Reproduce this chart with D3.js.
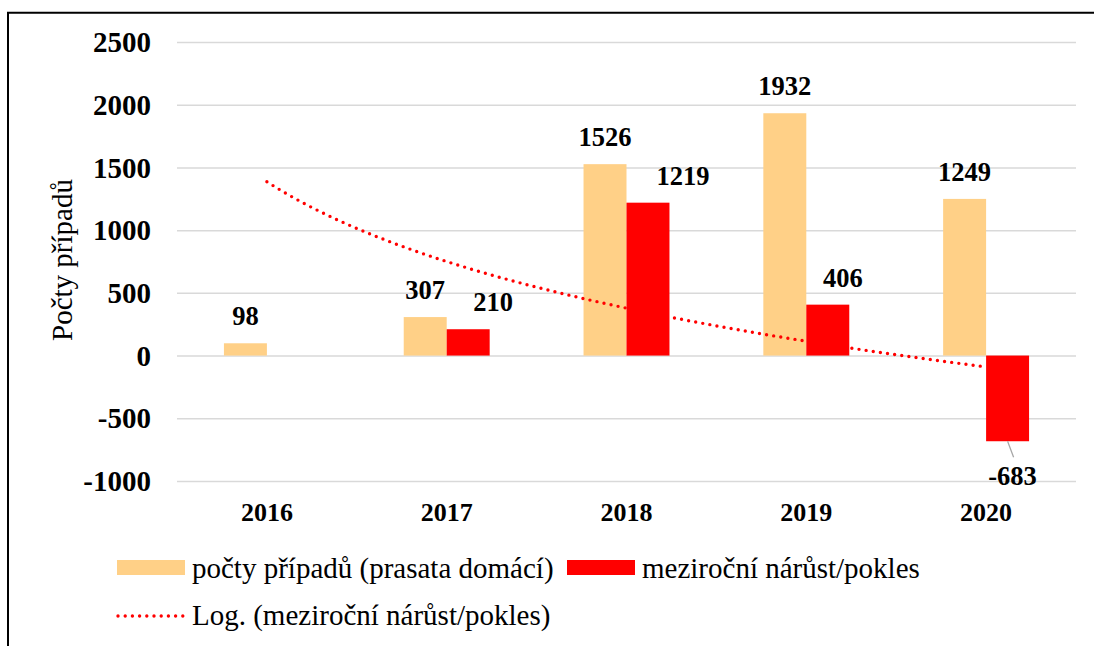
<!DOCTYPE html>
<html>
<head>
<meta charset="utf-8">
<script src="https://cdn.jsdelivr.net/npm/d3@7"></script>
<style>
  body { margin: 0; background: #fff; }
  svg { display: block; }
  svg text { font-family: "Times New Roman", "Liberation Serif", "DejaVu Serif", serif; }
</style>
</head>
<body>
<div id="chart"></div>
<script>
const years = ["2016", "2017", "2018", "2019", "2020"];
const cases = [98, 307, 1526, 1932, 1249];
const change = [null, 210, 1219, 406, -683];
const yTicks = [-1000, -500, 0, 500, 1000, 1500, 2000, 2500];

// label nudges for the red series, as placed in the original
const changeLabelDx = [0, 25, 35, 15, 5];

const W = 1094, H = 646;
const orange = "#ffd087", red = "#ff0000";

const svg = d3.select("#chart").append("svg").attr("width", W).attr("height", H);

// frame (top + left edge, cropped on the others)
svg.append("path")
  .attr("d", "M8,646 V12.8 H1094")
  .attr("fill", "none").attr("stroke", "#000").attr("stroke-width", 2);

const x = d3.scaleBand().domain(years).range([177, 1076]);
const y = d3.scaleLinear().domain([-1000, 2500]).range([481, 42]);
const bw = x.step() * 0.239;

// grid
svg.append("g")
  .attr("transform", "translate(177,0)")
  .call(d3.axisLeft(y).tickValues(yTicks).tickSize(-(1076 - 177)).tickFormat(""))
  .call((g) => g.select(".domain").remove())
  .call((g) => g.selectAll("line").attr("stroke", "#d9d9d9").attr("stroke-width", 1.5));

// y tick labels
svg.append("g")
  .selectAll("text")
  .data(yTicks)
  .enter()
  .append("text")
  .attr("x", 151)
  .attr("y", (d) => y(d))
  .attr("dy", "0.35em")
  .attr("text-anchor", "end")
  .style("font-size", "29px")
  .style("font-weight", "bold")
  .text((d) => d);

// x labels
svg.append("g")
  .selectAll("text")
  .data(years)
  .enter()
  .append("text")
  .attr("x", (d) => x(d) + x.bandwidth() / 2)
  .attr("y", 521)
  .attr("text-anchor", "middle")
  .style("font-size", "26px")
  .style("font-weight", "bold")
  .text((d) => d);

// y title
svg.append("text")
  .attr("transform", "translate(72,260) rotate(-90)")
  .attr("text-anchor", "middle")
  .style("font-size", "29px")
  .text("Počty případů");

const cx = (i) => x(years[i]) + x.bandwidth() / 2;

const caseData = cases.map((v, i) => ({ v, i }));
const changeData = change.map((v, i) => ({ v, i })).filter((d) => d.v !== null);

// orange bars
svg.append("g")
  .selectAll("rect")
  .data(caseData)
  .enter()
  .append("rect")
  .attr("x", (d) => cx(d.i) - bw)
  .attr("width", bw)
  .attr("y", (d) => y(Math.max(d.v, 0)))
  .attr("height", (d) => Math.abs(y(d.v) - y(0)))
  .attr("fill", orange);

// red bars
svg.append("g")
  .selectAll("rect")
  .data(changeData)
  .enter()
  .append("rect")
  .attr("x", (d) => cx(d.i))
  .attr("width", bw)
  .attr("y", (d) => y(Math.max(d.v, 0)))
  .attr("height", (d) => Math.abs(y(d.v) - y(0)))
  .attr("fill", red);

// logarithmic trendline of the red series (least squares on ln(x), blanks skipped)
const lx = changeData.map((d) => Math.log(d.i + 1));
const mx = d3.mean(lx), my = d3.mean(changeData, (d) => d.v);
const slope = d3.sum(changeData, (d, k) => (lx[k] - mx) * (d.v - my)) / d3.sum(lx, (v) => (v - mx) * (v - mx));
const icpt = my - slope * mx;
const xs = d3.scaleLinear().domain([1, 5]).range([cx(0), cx(4)]);
const trend = d3.range(1, 5.001, 0.05).map((t) => [t, slope * Math.log(t) + icpt]);

svg.append("path")
  .datum(trend)
  .attr("fill", "none")
  .attr("stroke", red)
  .attr("stroke-width", 3.4)
  .attr("stroke-linecap", "round")
  .attr("stroke-dasharray", "0 7.2")
  .attr("d", d3.line().x((d) => xs(d[0])).y((d) => y(d[1])));

// data labels
svg.append("g")
  .selectAll("text")
  .data(caseData)
  .enter()
  .append("text")
  .attr("x", (d) => cx(d.i) - bw / 2)
  .attr("y", (d) => y(d.v) - 18)
  .attr("text-anchor", "middle")
  .style("font-size", "26.5px")
  .style("font-weight", "bold")
  .text((d) => d.v);

svg.append("g")
  .selectAll("text")
  .data(changeData)
  .enter()
  .append("text")
  .attr("x", (d) => cx(d.i) + bw / 2 + changeLabelDx[d.i])
  .attr("y", (d) => (d.v >= 0 ? y(d.v) - 18 : y(d.v) + 44))
  .attr("text-anchor", "middle")
  .style("font-size", "26.5px")
  .style("font-weight", "bold")
  .text((d) => d.v);

// leader line for the negative label
svg.append("g")
  .selectAll("line")
  .data(changeData.filter((d) => d.v < 0))
  .enter()
  .append("line")
  .attr("x1", (d) => cx(d.i) + bw / 2)
  .attr("y1", (d) => y(d.v))
  .attr("x2", (d) => cx(d.i) + bw / 2 + 6)
  .attr("y2", (d) => y(d.v) + 16)
  .attr("stroke", "#a6a6a6")
  .attr("stroke-width", 1.3);

// legend
const lg = svg.append("g");
lg.append("rect").attr("x", 117).attr("y", 560).attr("width", 68).attr("height", 15).attr("fill", orange);
lg.append("text").attr("x", 192).attr("y", 578).style("font-size", "29px").text("počty případů (prasata domácí)");
lg.append("rect").attr("x", 567).attr("y", 560).attr("width", 68).attr("height", 15).attr("fill", red);
lg.append("text").attr("x", 642).attr("y", 578).style("font-size", "29px").text("meziroční nárůst/pokles");
lg.append("line")
  .attr("x1", 118).attr("x2", 184).attr("y1", 616).attr("y2", 616)
  .attr("stroke", red).attr("stroke-width", 3.4)
  .attr("stroke-linecap", "round").attr("stroke-dasharray", "0 7.2");
lg.append("text").attr("x", 192).attr("y", 625).style("font-size", "29px").text("Log. (meziroční nárůst/pokles)");
</script>
</body>
</html>
